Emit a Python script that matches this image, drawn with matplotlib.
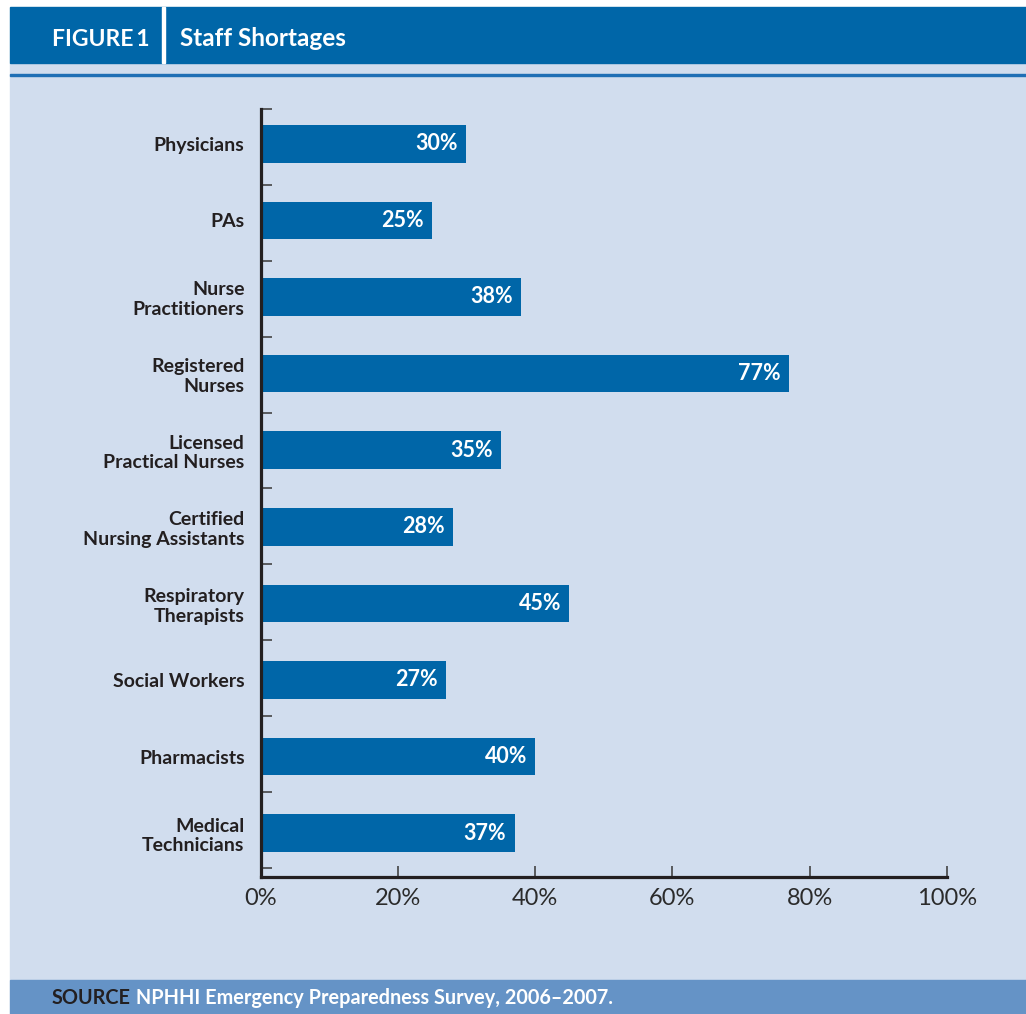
import numpy as np
import matplotlib
matplotlib.use("Agg")
import matplotlib.pyplot as plt
from matplotlib.patches import Rectangle

plt.rcParams["font.family"] = ["Lato", "DejaVu Sans"]

categories = [
    "Physicians",
    "PAs",
    "Nurse\nPractitioners",
    "Registered\nNurses",
    "Licensed\nPractical Nurses",
    "Certified\nNursing Assistants",
    "Respiratory\nTherapists",
    "Social Workers",
    "Pharmacists",
    "Medical\nTechnicians",
]
shortage_pct = [30, 25, 38, 77, 35, 28, 45, 27, 40, 37]
x_ticks = [0, 20, 40, 60, 80, 100]

BAR_BLUE = "#0066a8"
HEADER_BLUE = "#0066a8"
PANEL = "#d1ddee"
FOOTER = "#6593c6"
DARK = "#231f20"

W, H = 1026, 1014
fig = plt.figure(figsize=(W / 100, H / 100), dpi=100)
fig.patch.set_facecolor("white")


def px_rect(x0, y0, x1, y1, color):
    # rectangle given in pixel coords measured from the top-left corner
    fig.patches.append(Rectangle((x0 / W, 1 - y1 / H), (x1 - x0) / W, (y1 - y0) / H,
                                 transform=fig.transFigure, color=color, zorder=-5))


px_rect(10, 63, W, 980, PANEL)
px_rect(10, 7, W, 63, HEADER_BLUE)
px_rect(10, 980, W, H, FOOTER)
px_rect(10, 74.3, W, 75.8, "#1f6fb5")
px_rect(162, 7, 164.5, 63, "white")

fig.text(52 / W, 1 - 39 / H, "FIGURE\u20091", color="white", fontsize=16.5,
         fontweight="bold", va="center", ha="left")
fig.text(180 / W, 1 - 39 / H, "Staff Shortages", color="white", fontsize=17.5,
         fontweight="bold", va="center", ha="left")

ax = fig.add_axes([260.5 / W, 1 - 876.7 / H, (947 - 260.5) / W, (876.7 - 109.3) / H])
ax.set_zorder(5)
ax.set_facecolor("none")

y = np.arange(len(categories))
bars = ax.barh(y, shortage_pct, height=0.49, color=BAR_BLUE, zorder=2)
for b, v in zip(bars, shortage_pct):
    ax.text(b.get_width() - 1.2, b.get_y() + b.get_height() / 2, f"{v}%",
            color="white", fontsize=15.5, fontweight="bold", ha="right", va="center", zorder=3)

ax.set_xlim(0, 100)
ax.set_ylim(9.568, -0.45)

ax.set_yticks(np.linspace(-0.45, 9.45, 11))
ax.set_yticklabels([])
ax.set_yticks(y, minor=True)
ax.set_yticklabels(categories, minor=True, fontsize=14, fontweight="bold", color=DARK,
                   linespacing=1.2)
ax.tick_params(axis="y", which="minor", length=0, pad=11.5)
ax.tick_params(axis="y", which="major", direction="in", length=8, width=1.2, color="#444444")

ax.set_xticks(x_ticks)
ax.set_xticklabels([f"{t}%" for t in x_ticks], fontsize=17, color="#2b2b2b", fontweight="normal")
ax.tick_params(axis="x", direction="in", length=8, width=1.2, color="#444444", pad=8)

for s in ["top", "right"]:
    ax.spines[s].set_visible(False)
for s in ["left", "bottom"]:
    ax.spines[s].set_linewidth(2.3)
    ax.spines[s].set_color(DARK)

t1 = fig.text(52 / W, 1 - 998 / H, "SOURCE", color=DARK, fontsize=14.3,
              fontweight="bold", va="center", ha="left")
ax.annotate(" NPHHI Emergency Preparedness Survey, 2006\u20132007.", xy=(1, 0), xycoords=t1,
            va="bottom", ha="left", color="white", fontsize=14.3, fontweight="bold",
            annotation_clip=False)

fig.savefig("out.png", dpi=100, facecolor="white")
